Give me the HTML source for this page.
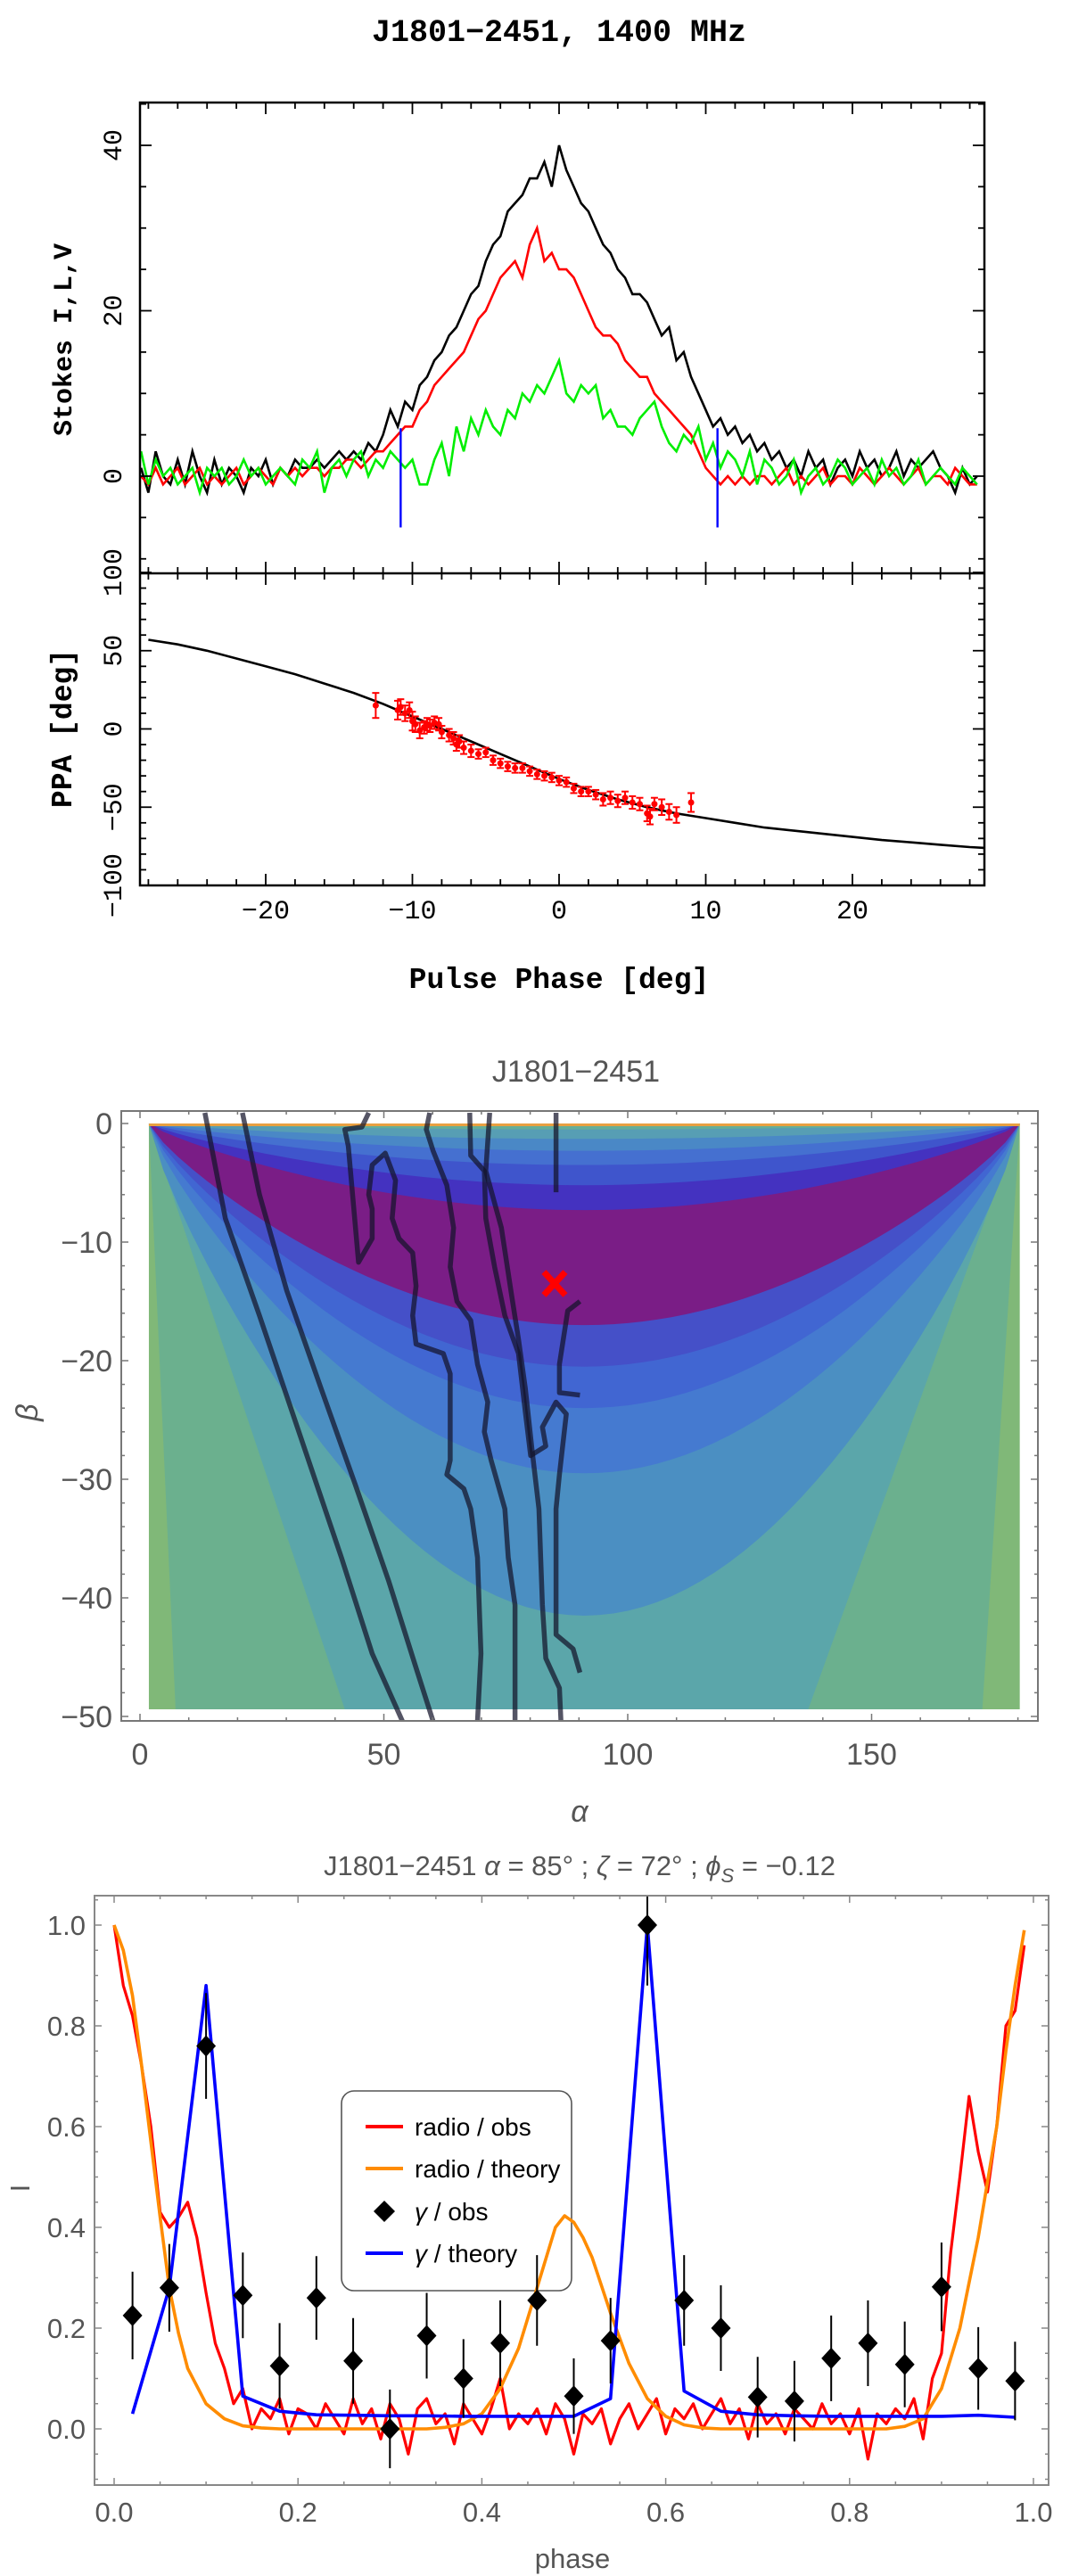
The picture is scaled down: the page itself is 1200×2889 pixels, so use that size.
<!DOCTYPE html>
<html><head><meta charset="utf-8"><style>
html,body{margin:0;padding:0;background:#fff;}
svg{display:block;}
</style></head><body>
<svg id="chart" width="1200" height="2889" viewBox="0 0 1200 2889"></svg>
<script>
// ===== Panel 1: Stokes profile data (pulse phase deg, step 0.5 from -28.5) =====
const phaseStart = -28.5, phaseStep = 0.5;
const stokesI = [1,-2,3,0,-1,2,-1,3,0,-2,2,-1,1,0,-2,1,0,2,-1,1,0,2,1,1,2,1,2,3,2,
 3,2,4,3,5,8,6,9,8,
 11,12,14,15,17,18,20,22,23,26,28,29,32,33,34,36,36,38,35,
 40,37,35,33,32,30,28,27,25,24,22,22,21,19,17,18,14,15,12,10,
 8,6,7,5,6,4,5,3,4,2,3,1,2,0,3,1,2,-1,1,2,0,3,1,2,0,1,3,0,2,1,2,3,1,0,-2,1,-1,0];
const stokesL = [0,-1,1,-1,0,1,-1,0,1,-1,0,-1,0,1,-1,0,1,0,-1,1,0,1,0,1,1,0,1,1,2,
 2,1,2,3,3,4,5,6,6,
 8,9,11,12,13,14,15,17,19,20,22,24,25,26,24,28,30,26,27,
 25,25,24,22,20,18,17,17,16,14,13,12,12,10,9,8,7,6,5,3,
 1,0,-1,0,-1,0,-1,0,0,-1,0,1,-1,0,-1,0,1,-1,0,0,-1,1,0,-1,0,1,0,-1,0,1,-1,0,0,-1,1,0,-1,-1];
const stokesV = [3,-1,2,0,1,-1,0,1,-2,1,0,1,-1,0,2,0,1,-1,0,1,0,-1,2,1,3,-2,1,2,0,
 2,3,0,2,1,3,2,1,2,
 -1,-1,2,4,0,6,3,7,5,8,6,5,8,7,10,9,11,10,12,
 14,10,9,11,10,11,7,8,6,6,5,7,8,9,6,4,3,5,4,6,
 2,4,1,3,2,0,3,-1,2,1,-1,0,2,-2,0,1,-1,0,2,1,-1,0,1,-1,2,0,1,-1,0,2,-1,0,1,0,-1,1,0,-1];
const markerPhases = [-10.8, 10.8];
const markerRange = [-6.2, 5.8];
const p1XTicks = [-20,-10,0,10,20];
const p1XTickLabels = ['\u221220','\u221210','0','10','20'];
const p1YTicks = [0,20,40];
const ppaTicks = [-100,-50,0,50,100];
const ppaTickLabels = ['\u2212100','\u221250','0','50','100'];
// PPA data
const ppaPhase = [-12.5,-11,-10.8,-10.5,-10.2,-10,-9.8,-9.5,-9.2,-9,-8.8,-8.5,-8.2,-8,-7.5,-7.2,-7,-6.8,-6.5,-6,-5.5,-5,-4.5,-4,-3.5,-3,-2.5,-2,-1.5,-1,-0.5,0,0.5,1,1.5,2,2.5,3,3.5,4,4.5,5,5.5,6,6.2,6.5,7,7.5,8,9];
const ppaValue = [15,12,14,10,12,5,3,-1,1,3,2,4,3,-2,-4,-6,-10,-8,-12,-14,-16,-15,-20,-22,-24,-25,-25,-27,-29,-30,-31,-33,-34,-38,-40,-40,-42,-45,-44,-46,-44,-47,-48,-54,-56,-48,-50,-53,-55,-47];
const ppaErr = [8,6,5,5,5,6,5,5,4,4,4,4,4,4,4,4,4,4,4,4,3,3,3,3,3,3,3,3,3,3,3,3,3,3,3,3,3,4,4,4,4,4,4,5,5,4,5,5,5,6];
const rvmPhase = [-28,-26,-24,-22,-20,-18,-16,-14,-12,-10,-8,-6,-4,-2,0,2,4,6,8,10,12,14,16,18,20,22,24,26,28,29];
const rvmPPA = [57,54,50,45,40,35,29,23,16,8,0,-8,-16,-24,-32,-39,-45,-50,-54,-57,-60,-63,-65,-67,-69,-71,-72.5,-74,-75.5,-76];

// ===== Panel 2: contour map data =====
const alphaTicks = [0,50,100,150];
const betaTicks = [0,-10,-20,-30,-40,-50];
const betaTickLabels = ['0','\u221210','\u221220','\u221230','\u221240','\u221250'];
const bandDepths = [-41.5,-29.5,-24,-20.5,-17,-7.3,-5.2,-3.5,-2.3,-1.3,-0.5];
const bandColors = ['#4b8fc2','#457ad0','#4166d2','#4550c8','#7a1d86','#4432c0','#3f55cc','#4570d0','#4a88c6','#579eb4','#66ae98'];
const tealBottomAlpha = [42,137];
const greenBottomAlpha = [7.3,172.7];
const contourA = [[13.3,0.9],[17.5,-8],[24.5,-16.2],[32.9,-26.4],[41.3,-36.6],[47.6,-44.7],[53.8,-50.4]];
const contourB = [[21,0.9],[24.5,-6],[30.1,-14.1],[37.1,-22.3],[44.1,-30.4],[51,-38.6],[56.6,-45.9],[60.1,-50.4]];
const contourC = [[46.9,0.9],[45.5,-0.3],[42,-0.5],[42.7,-1.9],[44.8,-11.7],[47.6,-9.7],[47.6,-7.2],[46.9,-6],[47.6,-3.5],[50.3,-2.5],[52.4,-4.8],[51.7,-8],[53.1,-9.7],[55.9,-10.9],[56.6,-13.7],[55.9,-16.2],[56.6,-18.6],[62.2,-19.4],[63.6,-21.1],[63.6,-28.4],[62.9,-29.6],[66.4,-30.8],[67.8,-32.5],[69.2,-36.6],[69.9,-44.7],[69.2,-50.4]];
const contourD = [[59.4,0.9],[58.7,-0.5],[60.1,-2.3],[62.9,-5.2],[64.3,-8.8],[63.6,-12.1],[65,-15],[67.8,-16.6],[69.2,-20.3],[71.3,-23.5],[70.6,-26],[72,-28.4],[74.8,-32.5],[75.5,-36.6],[76.9,-40.6],[76.9,-50.4]];
const contourE = [[67.6,0.9],[67.8,-2.7],[70.6,-4],[70.9,-8],[72.7,-12.1],[74.8,-16.2],[77.6,-19.4],[79,-24.3],[80.1,-28],[83.2,-27.2],[82.5,-25.6],[85.3,-23.5],[87.4,-24.5],[86,-29.6],[85.3,-32.5],[85.3,-43.1],[88.8,-44.3],[90.2,-46.3]];
const contourF = [[71.7,0.9],[70.9,-4],[74.1,-8.8],[76.2,-14.5],[77.6,-18.2],[79,-22.3],[80.4,-27.6],[81.8,-32.5],[82.5,-40.6],[83.2,-45.1],[86,-47.6],[86.3,-50.4]];
const contourG = [[85.3,0.9],[85.3,-5.8]];
const contourH = [[90.2,-15],[87.7,-15.8],[86,-20.3],[86,-22.7],[90.2,-22.9]];
const bestFit = [85,-13.5];

// ===== Panel 3: light curves =====
const radioObsPhase0 = 0, radioObsStep = 0.01;
const radioObs = [1.0,0.88,0.82,0.72,0.60,0.43,0.40,0.42,0.45,0.38,0.27,0.17,0.12,0.05,0.08,0.0,0.04,0.02,0.06,-0.01,0.04,0.03,0.0,0.05,0.02,-0.01,0.06,0.01,0.04,-0.02,0.05,0.02,-0.05,0.04,0.06,0.01,0.03,-0.03,0.05,0.02,-0.01,0.04,0.10,0.0,0.03,0.01,0.04,-0.01,0.05,0.02,-0.05,0.03,0.01,0.04,-0.03,0.02,0.05,0.0,0.03,0.06,-0.01,0.04,0.02,0.05,0.0,0.03,0.06,0.01,0.04,-0.02,0.05,0.01,0.03,-0.01,0.04,0.02,0.0,0.05,0.01,0.03,-0.01,0.04,-0.06,0.03,0.01,0.04,0.02,0.06,-0.02,0.10,0.15,0.35,0.50,0.66,0.55,0.47,0.60,0.80,0.83,0.96];
const radioThPhase = [0,0.01,0.02,0.03,0.04,0.05,0.06,0.07,0.08,0.10,0.12,0.14,0.16,0.18,0.34,0.36,0.38,0.40,0.42,0.44,0.46,0.47,0.48,0.49,0.50,0.51,0.52,0.54,0.56,0.58,0.60,0.62,0.64,0.66,0.84,0.86,0.88,0.90,0.92,0.94,0.96,0.97,0.98,0.99];
const radioTh = [1.0,0.95,0.86,0.72,0.57,0.42,0.28,0.19,0.12,0.05,0.02,0.006,0.002,0,0,0.003,0.01,0.03,0.08,0.16,0.28,0.34,0.40,0.423,0.41,0.38,0.34,0.23,0.13,0.06,0.025,0.008,0.002,0,0,0.005,0.02,0.08,0.2,0.38,0.6,0.75,0.88,0.99];
const gammaPhase = [0.02,0.06,0.10,0.14,0.18,0.22,0.26,0.30,0.34,0.38,0.42,0.46,0.50,0.54,0.58,0.62,0.66,0.70,0.74,0.78,0.82,0.86,0.90,0.94,0.98];
const gammaObs = [0.225,0.28,0.76,0.265,0.125,0.26,0.135,0.0,0.185,0.10,0.17,0.255,0.065,0.175,1.0,0.255,0.20,0.063,0.055,0.14,0.17,0.128,0.282,0.12,0.095];
const gammaErr = [0.087,0.087,0.105,0.085,0.085,0.083,0.085,0.078,0.085,0.078,0.085,0.09,0.075,0.085,0.12,0.09,0.085,0.08,0.08,0.085,0.085,0.085,0.088,0.082,0.078];
const gammaTh = [0.03,0.28,0.88,0.065,0.035,0.028,0.027,0.026,0.026,0.025,0.025,0.025,0.025,0.06,1.0,0.075,0.035,0.028,0.026,0.025,0.025,0.025,0.025,0.027,0.023];
const p3XTicks = [0,0.2,0.4,0.6,0.8,1.0];
const p3YTicks = [0,0.2,0.4,0.6,0.8,1.0];

// ===== helpers =====
const svg = document.getElementById('chart');
const NS = svg.namespaceURI;
function mk(tag, attrs, parent){
  const e = document.createElementNS(NS, tag);
  for (const k in attrs) e.setAttribute(k, attrs[k]);
  (parent || svg).appendChild(e);
  return e;
}
function txt(str, attrs, parent){ const e = mk('text', attrs, parent); e.textContent = str; return e; }
function poly(pts){ return pts.map(p => p[0].toFixed(1)+','+p[1].toFixed(1)).join(' '); }

// ===== Panel 1 scales =====
const p1x = d => 627 + d*16.45;
const p1yS = v => 534 - v*9.275;
const p1yP = v => 817.5 - v*1.755;
const P1L = 157, P1R = 1104, P1T = 115, P1M = 643, P1B = 993;
const mono = '"Liberation Mono", monospace';

let el;
el = txt('J1801\u22122451, 1400 MHz', {x:627, y:46, 'text-anchor':'middle', 'font-family':mono, 'font-weight':'bold', 'font-size':35, fill:'#000'});



const g1 = mk('g', {});


const clip1 = mk('clipPath', {id:'clip1'});
mk('rect', {x:P1L, y:P1T, width:P1R-P1L, height:P1M-P1T}, clip1);
const clip1b = mk('clipPath', {id:'clip1b'});
mk('rect', {x:P1L, y:P1M, width:P1R-P1L, height:P1B-P1M}, clip1b);

function seriesPts(arr, xf, yf){ return arr.map((v,i) => [xf(phaseStart + i*phaseStep), yf(v)]); }
el = mk('polyline', {points:poly(seriesPts(stokesI, p1x, p1yS)), fill:'none', stroke:'#000', 'stroke-width':2.6, 'clip-path':'url(#clip1)'}, g1);


el = mk('polyline', {points:poly(seriesPts(stokesL, p1x, p1yS)), fill:'none', stroke:'#ff0000', 'stroke-width':2.6, 'clip-path':'url(#clip1)'}, g1);


el = mk('polyline', {points:poly(seriesPts(stokesV, p1x, p1yS)), fill:'none', stroke:'#00ee00', 'stroke-width':2.6, 'clip-path':'url(#clip1)'}, g1);


markerPhases.forEach(ph => {
  const m = mk('line', {x1:p1x(ph), x2:p1x(ph), y1:p1yS(markerRange[0]), y2:p1yS(markerRange[1]), stroke:'#0000ff', 'stroke-width':2.4}, g1);
  
  
});

// PPA
const g1b = mk('g', {});


el = mk('polyline', {points:poly(rvmPhase.map((p,i)=>[p1x(p), p1yP(rvmPPA[i])])), fill:'none', stroke:'#000', 'stroke-width':2.6, 'clip-path':'url(#clip1b)'}, g1b);


ppaPhase.forEach((p,i) => {
  const gp = mk('g', {stroke:'#ff0000', 'stroke-width':2, fill:'#ff0000'}, g1b);
  
  
  const x = p1x(p), y = p1yP(ppaValue[i]), e1 = p1yP(ppaValue[i]+ppaErr[i]), e2 = p1yP(ppaValue[i]-ppaErr[i]);
  mk('line', {x1:x, x2:x, y1:e1, y2:e2}, gp);
  mk('line', {x1:x-4, x2:x+4, y1:e1, y2:e1}, gp);
  mk('line', {x1:x-4, x2:x+4, y1:e2, y2:e2}, gp);
  mk('circle', {cx:x, cy:y, r:3.5, stroke:'none'}, gp);
});

// frames and ticks panel 1
el = mk('rect', {x:P1L, y:P1T, width:P1R-P1L, height:P1B-P1T, fill:'none', stroke:'#000', 'stroke-width':2.5});


el = mk('line', {x1:P1L, x2:P1R, y1:P1M, y2:P1M, stroke:'#000', 'stroke-width':2.5});


const tk1 = mk('g', {stroke:'#000', 'stroke-width':1.8});


for (let d=-28; d<=28; d+=2){
  const x = p1x(d), L = (d%10===0)?13:7;
  [[P1T,1],[P1M,-1],[P1M,1],[P1B,-1]].forEach(([y,s]) => mk('line', {x1:x, x2:x, y1:y, y2:y+s*L}, tk1));
}
for (let v=-10; v<=45; v+=5){
  const y = p1yS(v), L = (v%20===0)?13:7;
  if (y<P1T||y>P1M) continue;
  mk('line', {x1:P1L, x2:P1L+L, y1:y, y2:y}, tk1);
  mk('line', {x1:P1R, x2:P1R-L, y1:y, y2:y}, tk1);
}
for (let v=-100; v<=100; v+=10){
  const y = p1yP(v), L = (v%50===0)?13:7;
  mk('line', {x1:P1L, x2:P1L+L, y1:y, y2:y}, tk1);
  mk('line', {x1:P1R, x2:P1R-L, y1:y, y2:y}, tk1);
}
p1XTicks.forEach((d,i) => {
  const t = txt(p1XTickLabels[i], {x:p1x(d), y:1030, 'text-anchor':'middle', 'font-family':mono, 'font-size':30, fill:'#000'});
  
  
});
p1YTicks.forEach(v => {
  const t = txt(String(v), {x:0, y:0, transform:`translate(136,${p1yS(v)}) rotate(-90)`, 'text-anchor':'middle', 'font-family':mono, 'font-size':30, fill:'#000'});
  
  
});
ppaTicks.forEach((v,i) => {
  const t = txt(ppaTickLabels[i], {x:0, y:0, transform:`translate(136,${p1yP(v)}) rotate(-90)`, 'text-anchor':'middle', 'font-family':mono, 'font-size':30, fill:'#000'});
  
  
});
el = txt('Stokes I,L,V', {x:0, y:0, transform:'translate(80,381) rotate(-90)', 'text-anchor':'middle', 'font-family':mono, 'font-weight':'bold', 'font-size':30, fill:'#000'});


el = txt('PPA [deg]', {x:0, y:0, transform:'translate(80,817) rotate(-90)', 'text-anchor':'middle', 'font-family':mono, 'font-weight':'bold', 'font-size':33, fill:'#000'});


el = txt('Pulse Phase [deg]', {x:627, y:1108, 'text-anchor':'middle', 'font-family':mono, 'font-weight':'bold', 'font-size':33, fill:'#000'});



// ===== Panel 2 =====
const sans = '"Liberation Sans", sans-serif';
const p2x = a => 157 + a*5.47;
const p2y = b => 1260 - b*13.3;
const A0 = 1.8, A1 = 180.4, BB = -49.4;
el = txt('J1801\u22122451', {x:646, y:1213, 'text-anchor':'middle', 'font-family':sans, 'font-size':34, fill:'#555'});


const clip2 = mk('clipPath', {id:'clip2'});
mk('rect', {x:p2x(A0), y:p2y(0), width:p2x(A1)-p2x(A0), height:p2y(BB)-p2y(0)}, clip2);
const clip2f = mk('clipPath', {id:'clip2f'});
mk('rect', {x:136, y:1246, width:1028, height:684}, clip2f);
const g2 = mk('g', {'clip-path':'url(#clip2)'});


el = mk('rect', {x:p2x(A0), y:p2y(0), width:p2x(A1)-p2x(A0), height:p2y(BB)-p2y(0), fill:'#80b878'}, g2);


el = mk('polygon', {points:poly([[p2x(A0),p2y(0)],[p2x(A1),p2y(0)],[p2x(greenBottomAlpha[1]),p2y(BB)],[p2x(greenBottomAlpha[0]),p2y(BB)]]), fill:'#6bb08e'}, g2);


el = mk('polygon', {points:poly([[p2x(A0),p2y(0)],[p2x(A1),p2y(0)],[p2x(tealBottomAlpha[1]),p2y(BB)],[p2x(tealBottomAlpha[0]),p2y(BB)]]), fill:'#5ba6aa'}, g2);


function lens(depth){
  const pts = [];
  for (let k=0;k<=60;k++){
    const t = k/60, a = A0 + t*(A1-A0);
    pts.push([p2x(a), p2y(depth*Math.pow(Math.sin(Math.PI*t),0.8))]);
  }
  return pts;
}
bandDepths.forEach((d,i) => {
  const b = mk('polygon', {points:poly(lens(d)), fill:bandColors[i]}, g2);
  
  
});
el = mk('rect', {x:p2x(A0), y:p2y(0)-1, width:p2x(A1)-p2x(A0), height:4, fill:'#e8a040'}, g2);


const g2c = mk('g', {'clip-path':'url(#clip2f)', fill:'none', stroke:'#14142a', 'stroke-opacity':0.72, 'stroke-width':5.5, 'stroke-linejoin':'round'});


[contourA,contourB,contourC,contourD,contourE,contourF,contourG,contourH].forEach(c => {
  const l = mk('polyline', {points:poly(c.map(p=>[p2x(p[0]),p2y(p[1])]))}, g2c);
  
  
});
const bx = p2x(bestFit[0]), by = p2y(bestFit[1]);
const xm = mk('g', {stroke:'#ff0000', 'stroke-width':7});


mk('line', {x1:bx-12, y1:by-13, x2:bx+12, y2:by+13}, xm);
mk('line', {x1:bx-12, y1:by+13, x2:bx+12, y2:by-13}, xm);
el = mk('rect', {x:136, y:1246, width:1028, height:684, fill:'none', stroke:'#777', 'stroke-width':2});


const tk2 = mk('g', {stroke:'#777', 'stroke-width':1.5});


for (let a=0;a<=180;a+=10){ const x=p2x(a), L=(a%50===0)?8:4; mk('line',{x1:x,x2:x,y1:1930,y2:1930-L},tk2); mk('line',{x1:x,x2:x,y1:1246,y2:1246+L},tk2); }
for (let b=0;b>=-50;b-=2){ const y=p2y(b), L=(b%10===0)?8:4; mk('line',{x1:136,x2:136+L,y1:y,y2:y},tk2); mk('line',{x1:1164,x2:1164-L,y1:y,y2:y},tk2); }
alphaTicks.forEach(a => {
  const t = txt(String(a), {x:p2x(a), y:1979, 'text-anchor':'middle', 'font-family':sans, 'font-size':34, fill:'#555'});
  
  
});
betaTicks.forEach((b,i) => {
  const t = txt(betaTickLabels[i], {x:126, y:p2y(b)+12, 'text-anchor':'end', 'font-family':sans, 'font-size':34, fill:'#555'});
  
  
});
el = txt('\u03b1', {x:650, y:2043, 'text-anchor':'middle', 'font-family':sans, 'font-style':'italic', 'font-size':34, fill:'#555'});


el = txt('\u03b2', {x:0, y:0, transform:'translate(42,1584) rotate(-90)', 'text-anchor':'middle', 'font-family':sans, 'font-style':'italic', 'font-size':34, fill:'#555'});



// ===== Panel 3 =====
const p3x = p => 128 + p*1031;
const p3y = v => 2724 - v*565;
el = txt('', {x:650, y:2103, 'text-anchor':'middle', 'font-family':sans, 'font-size':31, fill:'#555'});


el.innerHTML = 'J1801\u22122451 <tspan font-style="italic">\u03b1</tspan> = 85\u00b0 ; <tspan font-style="italic">\u03b6</tspan> = 72\u00b0 ; <tspan font-style="italic">\u03d5</tspan><tspan font-style="italic" font-size="22" dy="8">S</tspan><tspan dy="-8"> = \u22120.12</tspan>';
const clip3 = mk('clipPath', {id:'clip3'});
mk('rect', {x:106, y:2126, width:1070, height:661}, clip3);
// legend (behind data, transparent)
const lg = mk('g', {});


mk('rect', {x:383, y:2345, width:258, height:224, rx:14, fill:'none', stroke:'#555', 'stroke-width':1.6}, lg);
const legItems = [['radio / obs','#ff0000','line'],['radio / theory','#ff8c00','line'],['\u03b3 / obs','#000','diamond'],['\u03b3 / theory','#0000ff','line']];
const legY = [2385,2432,2480,2527];
legItems.forEach((it,i) => {
  const ge = mk('g', {}, lg);
  
  
  const y = legY[i];
  if (it[2]==='line') mk('line', {x1:410, x2:452, y1:y, y2:y, stroke:it[1], 'stroke-width':4}, ge);
  else mk('polygon', {points:poly([[431,y-12],[443,y],[431,y+12],[419,y]]), fill:'#000'}, ge);
  const t = txt('', {x:465, y:y+10, 'font-family':sans, 'font-size':28, fill:'#000'}, ge);
  if (it[0][0]==='\u03b3') t.innerHTML = '<tspan font-style="italic">\u03b3</tspan>' + it[0].slice(1);
  else t.textContent = it[0];
});
const g3 = mk('g', {'clip-path':'url(#clip3)'});


el = mk('polyline', {points:poly(radioObs.map((v,i)=>[p3x(radioObsPhase0+i*radioObsStep), p3y(v)])), fill:'none', stroke:'#ff0000', 'stroke-width':3.2, 'stroke-linejoin':'round'}, g3);


el = mk('polyline', {points:poly(radioThPhase.map((p,i)=>[p3x(p), p3y(radioTh[i])])), fill:'none', stroke:'#ff8c00', 'stroke-width':3.6, 'stroke-linejoin':'round'}, g3);


el = mk('polyline', {points:poly(gammaPhase.map((p,i)=>[p3x(p), p3y(gammaTh[i])])), fill:'none', stroke:'#0000ff', 'stroke-width':3.6, 'stroke-linejoin':'round'}, g3);


gammaPhase.forEach((p,i) => {
  const gp = mk('g', {}, g3);
  
  
  const x = p3x(p), y = p3y(gammaObs[i]);
  mk('line', {x1:x, x2:x, y1:p3y(gammaObs[i]+gammaErr[i]), y2:p3y(gammaObs[i]-gammaErr[i]), stroke:'#000', 'stroke-width':2}, gp);
  mk('polygon', {points:poly([[x,y-12],[x+11,y],[x,y+12],[x-11,y]]), fill:'#000'}, gp);
});
el = mk('rect', {x:106, y:2126, width:1070, height:661, fill:'none', stroke:'#888', 'stroke-width':2});


const tk3 = mk('g', {stroke:'#888', 'stroke-width':1.5});


for (let k=0;k<=20;k++){ const x=p3x(k*0.05), L=(k%4===0)?8:4; mk('line',{x1:x,x2:x,y1:2787,y2:2787-L},tk3); mk('line',{x1:x,x2:x,y1:2126,y2:2126+L},tk3); }
for (let k=-2;k<=21;k++){ const y=p3y(k*0.05), L=(k%4===0)?8:4; if(y<2126||y>2787) continue; mk('line',{x1:106,x2:106+L,y1:y,y2:y},tk3); mk('line',{x1:1176,x2:1176-L,y1:y,y2:y},tk3); }
p3XTicks.forEach(p => {
  const t = txt(p.toFixed(1), {x:p3x(p), y:2828, 'text-anchor':'middle', 'font-family':sans, 'font-size':31, fill:'#555'});
  
  
});
p3YTicks.forEach(v => {
  const t = txt(v.toFixed(1), {x:96, y:p3y(v)+11, 'text-anchor':'end', 'font-family':sans, 'font-size':31, fill:'#555'});
  
  
});
el = txt('phase', {x:642, y:2880, 'text-anchor':'middle', 'font-family':sans, 'font-size':31, fill:'#555'});


el = txt('I', {x:0, y:0, transform:'translate(33,2454) rotate(-90)', 'text-anchor':'middle', 'font-family':sans, 'font-size':31, fill:'#555'});


</script>
</body></html>
